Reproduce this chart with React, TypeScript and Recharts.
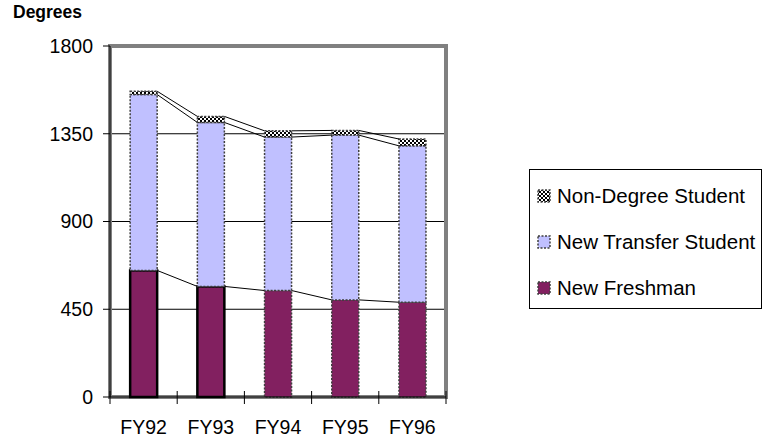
import React from 'react';
import { BarChart, Bar, XAxis, YAxis, CartesianGrid, Legend, ReferenceArea } from 'recharts';

const categories = ['FY92', 'FY93', 'FY94', 'FY95', 'FY96'];
const newFreshman = [649, 567, 546, 498, 486];
const newTransfer = [902, 841, 787, 845, 802];
const nonDegree = [17, 31, 32, 24, 35];
const yTicks = [0, 450, 900, 1350, 1800];
const seriesNames = ['New Freshman', 'New Transfer Student', 'Non-Degree Student'];

const data = categories.map((c, i) => ({
  name: c,
  fresh: newFreshman[i],
  transfer: newTransfer[i],
  nondeg: nonDegree[i],
}));

const FONT = '"Liberation Sans", Arial, sans-serif';
const PLUM = '#822060';
const LAVENDER = '#C0C0FF';

type Top = { x: number; y: number; w: number };
const tops: Record<string, Top[]> = {};

type StrokeStyle = { stroke: string; strokeWidth: number; dash?: string };
const dotted: StrokeStyle = { stroke: '#404040', strokeWidth: 1.5, dash: '2 1.5' };
const solidBlack: StrokeStyle = { stroke: '#000', strokeWidth: 2.5 };

function makeShape(key: string, fill: string, strokeFor: (i: number) => StrokeStyle) {
  return (props: any) => {
    const { x, y, width, height, index } = props;
    const arr = tops[key] || (tops[key] = []);
    arr[index] = { x, y, w: width };
    const prev = index > 0 ? arr[index - 1] : null;
    const s = strokeFor(index);
    return (
      <g>
        <rect
          x={x}
          y={y}
          width={width}
          height={height}
          fill={fill}
          stroke={s.stroke}
          strokeWidth={s.strokeWidth}
          strokeDasharray={s.dash}
        />
        {prev && (
          <line x1={prev.x + prev.w} y1={prev.y} x2={x} y2={y} stroke="#000" strokeWidth={1} />
        )}
      </g>
    );
  };
}

const freshShape = makeShape('fresh', PLUM, (i) => (i < 2 ? solidBlack : dotted));
const transferShape = makeShape('transfer', LAVENDER, () => dotted);
const nondegShape = makeShape('nondeg', 'url(#checker)', () => dotted);

const XTick = (props: any) => {
  const { x, y, payload, index } = props;
  const off = payload && typeof payload.offset === 'number' ? payload.offset : 0;
  return (
    <g>
      <line x1={x - off} x2={x - off} y1={y - 6} y2={y + 7} stroke="#000" strokeWidth={1} />
      {index === categories.length - 1 && (
        <line x1={x + off} x2={x + off} y1={y - 6} y2={y + 7} stroke="#000" strokeWidth={1} />
      )}
      <text x={x} y={y + 37} textAnchor="middle" fill="#000" fontSize={19.5} fontFamily={FONT}>
        {payload.value}
      </text>
    </g>
  );
};

const Swatch = ({ fill }: { fill: string }) => (
  <svg width={14} height={14} style={{ display: 'inline-block', verticalAlign: 'middle', marginRight: 6 }}>
    <rect x={1} y={1} width={12} height={12} fill={fill} stroke="#404040" strokeWidth={1.5} strokeDasharray="2 1.5" />
  </svg>
);

const LegendContent = (props: any) => {
  const items = [...(props.payload || [])].reverse();
  return (
    <div
      style={{
        border: '1px solid #000',
        boxSizing: 'border-box',
        width: 233,
        height: 140,
        paddingTop: 1,
        paddingLeft: 7,
        background: '#fff',
        fontFamily: FONT,
        fontSize: 20.5,
        color: '#000',
      }}
    >
      {items.map((it: any) => (
        <div key={it.value} style={{ height: 46, lineHeight: '46px', whiteSpace: 'nowrap' }}>
          <Swatch fill={it.color} />
          <span style={{ verticalAlign: 'middle' }}>{it.value}</span>
        </div>
      ))}
    </div>
  );
};

export default function App() {
  return (
    <div style={{ position: 'absolute', left: 0, top: 0, width: 774, height: 438, background: '#fff' }}>
      <div
        style={{
          position: 'absolute',
          left: 13,
          top: 4,
          fontFamily: FONT,
          fontWeight: 'bold',
          fontSize: 17.5,
          lineHeight: '17px',
          color: '#000',
        }}
      >
        Degrees
      </div>
      <BarChart
        width={774}
        height={438}
        data={data}
        margin={{ top: 46, right: 328, bottom: 0, left: 0 }}
        barCategoryGap="30%"
      >
        <defs>
          <pattern id="checker" width={4} height={4} patternUnits="userSpaceOnUse">
            <rect x={0} y={0} width={4} height={4} fill="#fff" />
            <rect x={0} y={0} width={2} height={2} fill="#000" />
            <rect x={2} y={2} width={2} height={2} fill="#000" />
          </pattern>
        </defs>
        <CartesianGrid vertical={false} stroke="#000" strokeWidth={1} />
        <XAxis
          dataKey="name"
          height={41}
          tickSize={0}
          tickMargin={0}
          tickLine={false}
          axisLine={{ stroke: '#000' }}
          tick={<XTick />}
          interval={0}
        />
        <YAxis
          width={110}
          domain={[0, 1800]}
          ticks={yTicks}
          tickSize={7}
          tickMargin={10}
          tickLine={{ stroke: '#000' }}
          axisLine={{ stroke: '#000' }}
          tick={{ fill: '#000', fontSize: 19.5, fontFamily: FONT }}
          interval={0}
        />
        <Bar dataKey="fresh" name={seriesNames[0]} stackId="a" fill={PLUM} shape={freshShape} isAnimationActive={false} />
        <Bar dataKey="transfer" name={seriesNames[1]} stackId="a" fill={LAVENDER} shape={transferShape} isAnimationActive={false} />
        <Bar dataKey="nondeg" name={seriesNames[2]} stackId="a" fill="url(#checker)" shape={nondegShape} isAnimationActive={false} />
        <ReferenceArea y1={0} y2={1800} fill="none" fillOpacity={0} stroke="#808080" strokeWidth={4} ifOverflow="visible" />
        <Legend
          layout="vertical"
          align="center"
          verticalAlign="middle"
          content={<LegendContent />}
          wrapperStyle={{ left: 529, top: 169, width: 233, height: 140 }}
        />
      </BarChart>
    </div>
  );
}
